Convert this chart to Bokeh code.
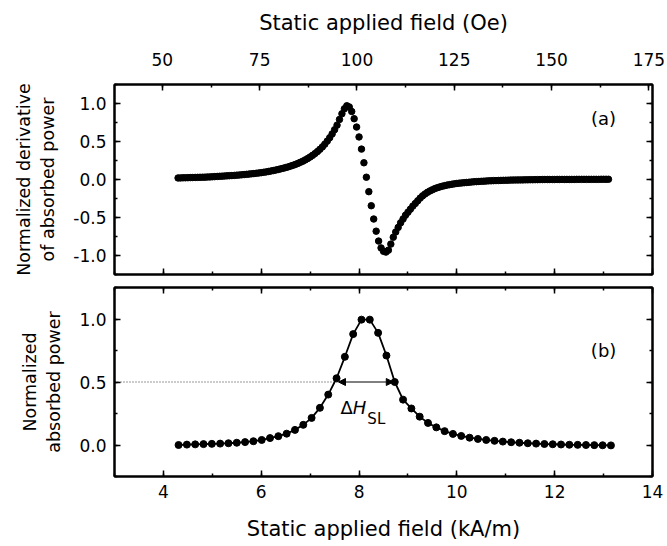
import math
from bokeh.plotting import figure
from bokeh.models import (LinearAxis, Range1d, SingleIntervalTicker, PrintfTickFormatter,
                          Arrow, NormalHead, Label, CustomLabelingPolicy)
from bokeh.layouts import column
from bokeh.embed import file_html
from bokeh.resources import INLINE

# ---------------- data ----------------
# Panel (a): normalized derivative of absorbed power vs static field (kA/m)
deriv_field = [4.30, 4.35, 4.40, 4.45, 4.50, 4.55, 4.60, 4.65, 4.70, 4.75,
               4.80, 4.85, 4.90, 4.95, 5.00, 5.05, 5.10, 5.15, 5.20, 5.25,
               5.30, 5.35, 5.40, 5.45, 5.50, 5.55, 5.60, 5.65, 5.70, 5.75,
               5.80, 5.85, 5.90, 5.95, 6.00, 6.05, 6.10, 6.15, 6.20, 6.25,
               6.30, 6.35, 6.40,
               6.45, 6.50, 6.55, 6.60, 6.65, 6.70, 6.75, 6.80, 6.85, 6.90,
               6.95, 7.00, 7.05, 7.10, 7.15, 7.20, 7.25, 7.30, 7.35, 7.40,
               7.45, 7.50, 7.55, 7.60, 7.65, 7.70, 7.75, 7.80, 7.85, 7.90,
               7.95, 8.00, 8.05, 8.10, 8.15, 8.20, 8.25, 8.30, 8.35, 8.40,
               8.45, 8.50, 8.55, 8.60, 8.65, 8.70, 8.75, 8.80, 8.85, 8.90,
               8.95, 9.00, 9.05, 9.10, 9.15, 9.20, 9.25, 9.30, 9.35, 9.40,
               9.45, 9.50, 9.55, 9.60, 9.65, 9.70, 9.75, 9.80, 9.85, 9.90,
               9.95, 10.00,
               10.05, 10.10, 10.15, 10.20, 10.25, 10.30, 10.35, 10.40, 10.45, 10.50,
               10.55, 10.60, 10.65, 10.70, 10.75, 10.80, 10.85, 10.90, 10.95, 11.00,
               11.05, 11.10, 11.15, 11.20, 11.25, 11.30, 11.35, 11.40, 11.45, 11.50,
               11.55, 11.60, 11.65, 11.70, 11.75, 11.80, 11.85, 11.90, 11.95, 12.00,
               12.05, 12.10, 12.15, 12.20, 12.25, 12.30, 12.35, 12.40, 12.45, 12.50,
               12.55, 12.60, 12.65, 12.70, 12.75, 12.80, 12.85, 12.90, 12.95, 13.00,
               13.05, 13.10]
deriv_signal = [0.020, 0.021, 0.022, 0.023, 0.024, 0.025, 0.026, 0.027, 0.028, 0.029,
                0.030, 0.031, 0.033, 0.034, 0.036, 0.038, 0.040, 0.042, 0.044, 0.046,
                0.048, 0.050, 0.052, 0.054, 0.057, 0.059, 0.062, 0.065, 0.068, 0.071,
                0.075, 0.078, 0.082, 0.086, 0.090, 0.095, 0.100, 0.106, 0.112, 0.118,
                0.125, 0.132, 0.140,
                0.148, 0.157, 0.166, 0.176, 0.187, 0.199, 0.212, 0.226, 0.241, 0.258,
                0.276, 0.296, 0.318, 0.342, 0.368, 0.397, 0.429, 0.465, 0.505, 0.550,
                0.600, 0.655, 0.715, 0.790, 0.865, 0.930, 0.970, 0.955, 0.895, 0.800,
                0.690, 0.560, 0.400, 0.220, 0.030, -0.160, -0.345, -0.520, -0.680, -0.810,
                -0.900, -0.945, -0.955, -0.930, -0.850, -0.760, -0.690, -0.630, -0.570, -0.520,
                -0.470, -0.430, -0.390, -0.350, -0.315, -0.280, -0.245, -0.215, -0.190, -0.168,
                -0.150, -0.135, -0.120, -0.108, -0.098, -0.089, -0.081, -0.074, -0.068, -0.062,
                -0.057, -0.052,
                -0.048, -0.045, -0.042, -0.039, -0.036, -0.033, -0.030, -0.028, -0.026, -0.024,
                -0.022, -0.020, -0.018, -0.017, -0.015, -0.014, -0.013, -0.012, -0.011, -0.010,
                -0.009, -0.008, -0.007, -0.006, -0.006, -0.005, -0.005, -0.004, -0.004, -0.003,
                -0.003, -0.002, -0.002, -0.001, -0.001, 0.000, 0.000, 0.000, 0.000, 0.000,
                0.001, 0.001, 0.001, 0.001, 0.001, 0.001, 0.001, 0.001, 0.002, 0.002,
                0.002, 0.002, 0.002, 0.002, 0.002, 0.002, 0.002, 0.002, 0.003, 0.003,
                0.003, 0.003]

# Panel (b): normalized absorbed power vs static field (kA/m)
abs_field = [4.31, 4.48, 4.65, 4.82, 4.99, 5.16, 5.33, 5.50, 5.67, 5.84,
             6.01, 6.18, 6.35, 6.52, 6.69, 6.86, 7.03, 7.20, 7.37, 7.54,
             7.71, 7.88, 8.05, 8.22, 8.39, 8.56, 8.73, 8.90, 9.07, 9.24,
             9.41, 9.58, 9.75, 9.92, 10.09, 10.26, 10.43, 10.60, 10.77, 10.94,
             11.11, 11.28, 11.45, 11.62, 11.79, 11.96, 12.13, 12.30, 12.47, 12.64,
             12.81, 12.98, 13.15]
abs_power = [0.000, 0.003, 0.005, 0.007, 0.009, 0.011, 0.014, 0.018, 0.023, 0.030,
             0.040, 0.055, 0.070, 0.090, 0.120, 0.160, 0.215, 0.295, 0.400, 0.530,
             0.700, 0.880, 0.995, 0.995, 0.890, 0.710, 0.500, 0.360, 0.290, 0.225,
             0.175, 0.140, 0.110, 0.088, 0.072, 0.058, 0.048, 0.040, 0.033, 0.027,
             0.022, 0.018, 0.014, 0.011, 0.008, 0.006, 0.004, 0.002, 0.001, 0.000,
             -0.001, -0.002, -0.003]

# half-maximum line width (Delta H_SL)
half_max = 0.5
fwhm_left = 7.58
fwhm_right = 8.70

x_min, x_max = 3.0, 14.0
OE_PER_KAM = 4 * math.pi  # 1 kA/m = 4*pi Oe

FONT = "DejaVu Sans"
TICK_SIZE = "17px"
LABEL_SIZE = "21px"
YLABEL_SIZE = "17.5px"

HIDE_LABELS = """
for (const i of indices)
  indices.unset(i)
"""


def style_axis(ax, labels=True, label_size=LABEL_SIZE):
    ax.major_tick_in = 6
    ax.major_tick_out = 0
    ax.minor_tick_in = 3
    ax.minor_tick_out = 0
    ax.axis_line_width = 2
    ax.axis_line_color = "black"
    ax.major_tick_line_width = 1.5
    ax.minor_tick_line_width = 1.5
    ax.major_tick_line_color = "black"
    ax.minor_tick_line_color = "black"
    ax.major_label_text_font = FONT
    ax.major_label_text_font_size = TICK_SIZE
    ax.major_label_text_color = "black"
    ax.axis_label_text_font = FONT
    ax.axis_label_text_font_size = label_size
    ax.axis_label_text_font_style = "normal"
    ax.axis_label_text_color = "black"
    ax.major_label_standoff = 8
    ax.axis_label_standoff = 12
    if not labels:
        ax.major_label_text_font_size = "1px"
        ax.major_label_standoff = 0
        ax.axis_label_standoff = 0
        ax.major_label_policy = CustomLabelingPolicy(code=HIDE_LABELS)


def kam_ticker():
    return SingleIntervalTicker(interval=2, num_minor_ticks=2)


def base_fig(height, y_range, top, bottom):
    p = figure(width=667, height=height, x_range=Range1d(x_min, x_max), y_range=y_range,
               output_backend="svg", toolbar_location=None,
               min_border_left=114, min_border_right=15,
               min_border_top=top, min_border_bottom=bottom,
               x_axis_location=None, y_axis_location=None)
    p.grid.visible = False
    p.outline_line_color = "black"
    p.outline_line_width = 2
    p.background_fill_color = "white"
    p.border_fill_color = "white"
    return p


# ---------------- panel (a) ----------------
p1 = base_fig(280, Range1d(-1.25, 1.25), 84, 6)
p1.extra_x_ranges = {"oe": Range1d(x_min * OE_PER_KAM, x_max * OE_PER_KAM)}

top_ax = LinearAxis(x_range_name="oe", axis_label="Static applied field (Oe)",
                    ticker=SingleIntervalTicker(interval=25, num_minor_ticks=2))
style_axis(top_ax)
top_ax.major_label_standoff = 19
top_ax.axis_label_standoff = 15
p1.add_layout(top_ax, "above")

bot_a = LinearAxis(ticker=kam_ticker())
style_axis(bot_a, labels=False)
p1.add_layout(bot_a, "below")

left_a = LinearAxis(axis_label="Normalized derivative\nof absorbed power",
                    ticker=SingleIntervalTicker(interval=0.5, num_minor_ticks=2),
                    formatter=PrintfTickFormatter(format="%.1f"))
style_axis(left_a, label_size=YLABEL_SIZE)
p1.add_layout(left_a, "left")

right_a = LinearAxis(ticker=SingleIntervalTicker(interval=0.5, num_minor_ticks=2))
style_axis(right_a, labels=False)
p1.add_layout(right_a, "right")

p1.scatter(deriv_field, deriv_signal, marker="circle", size=6.5, color="black")
p1.add_layout(Label(x=13.0, y=0.80, text="(a)", text_font=FONT, text_font_size="18px",
                    text_align="center", text_baseline="middle", text_color="black"))

# ---------------- panel (b) ----------------
p2 = base_fig(266, Range1d(-0.25, 1.25), 7, 70)

top_b = LinearAxis(ticker=kam_ticker())
style_axis(top_b, labels=False)
p2.add_layout(top_b, "above")

bot_b = LinearAxis(axis_label="Static applied field (kA/m)", ticker=kam_ticker())
style_axis(bot_b)
bot_b.axis_label_standoff = 16
p2.add_layout(bot_b, "below")

left_b = LinearAxis(axis_label="Normalized\nabsorbed power",
                    ticker=SingleIntervalTicker(interval=0.5, num_minor_ticks=2),
                    formatter=PrintfTickFormatter(format="%.1f"))
style_axis(left_b, label_size=YLABEL_SIZE)
p2.add_layout(left_b, "left")

right_b = LinearAxis(ticker=SingleIntervalTicker(interval=0.5, num_minor_ticks=2))
style_axis(right_b, labels=False)
p2.add_layout(right_b, "right")

p2.line([x_min, fwhm_left], [half_max, half_max], line_dash="1 2", line_width=1, color="#333333")
p2.line(abs_field, abs_power, line_width=1.8, color="black")
p2.scatter(abs_field, abs_power, marker="circle", size=7, color="black")

p2.add_layout(Arrow(x_start=fwhm_left, y_start=half_max, x_end=fwhm_right, y_end=half_max,
                    line_width=1, line_color="black",
                    start=NormalHead(size=7, fill_color="black", line_color="black"),
                    end=NormalHead(size=7, fill_color="black", line_color="black")))

p2.add_layout(Label(x=7.62, y=0.30, text="Δ", text_font=FONT, text_font_size="18px",
                    text_align="left", text_baseline="middle", text_color="black"))
p2.add_layout(Label(x=7.87, y=0.30, text="H", text_font=FONT, text_font_size="18px",
                    text_font_style="italic",
                    text_align="left", text_baseline="middle", text_color="black"))
p2.add_layout(Label(x=8.17, y=0.21, text="SL", text_font=FONT, text_font_size="15px",
                    text_align="left", text_baseline="middle", text_color="black"))
p2.add_layout(Label(x=13.0, y=0.75, text="(b)", text_font=FONT, text_font_size="18px",
                    text_align="center", text_baseline="middle", text_color="black"))

layout = column(p1, p2, spacing=0)
open("out.html", "w").write(file_html(layout, INLINE))
